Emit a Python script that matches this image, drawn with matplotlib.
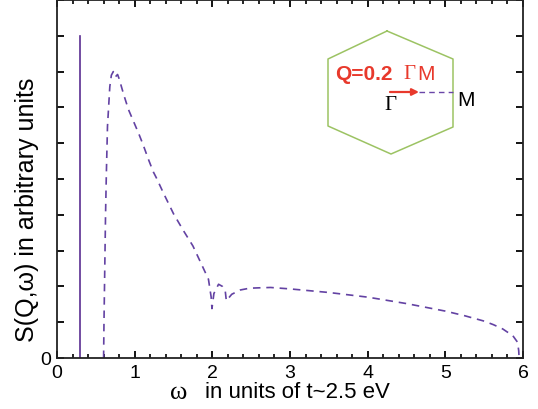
import matplotlib
matplotlib.use('Agg')
import matplotlib.pyplot as plt
import numpy as np

# delta peak (solid line)
delta_pos = 0.29
delta_height = 9.0

# continuum S(Q, w) (dashed line)
omega = [0.600, 0.605, 0.615, 0.625, 0.635, 0.65, 0.68, 0.70, 0.725, 0.75, 0.78,
         0.80, 0.86, 0.92, 1.05, 1.11, 1.175, 1.24, 1.28, 1.37, 1.50, 1.63, 1.75,
         1.86, 1.95, 1.985, 1.995, 2.02, 2.08, 2.13, 2.165, 2.18, 2.20, 2.25, 2.36,
         2.48, 2.60, 2.75, 3.0, 3.5, 4.0, 4.5, 5.0, 5.25, 5.5, 5.62, 5.74, 5.87,
         5.93, 5.945, 5.95]
s_qw = [0.0, 1.0, 2.5, 4.0, 5.1, 6.47, 7.58, 7.9, 8.0, 7.85, 7.92,
        7.8, 7.35, 6.94, 6.28, 5.95, 5.56, 5.2, 5.03, 4.61, 4.03, 3.55, 3.13,
        2.62, 2.2, 1.7, 1.38, 1.8, 2.06, 2.0, 1.9, 1.6, 1.65, 1.78, 1.9,
        1.95, 1.96, 1.97, 1.93, 1.83, 1.70, 1.52, 1.31, 1.18, 1.03, 0.93, 0.81, 0.62,
        0.44, 0.2, 0.0]

x_ticks = [0, 1, 2, 3, 4, 5, 6]

W, H = 538, 410


def fig_xy(px, py):
    return px / W, 1 - py / H


fig = plt.figure(figsize=(W / 100, H / 100), dpi=100)
ax = fig.add_axes([57 / W, 1 - 359 / H, (523 - 57) / W, (359 - 1) / H])

ax.plot([delta_pos, delta_pos], [0, delta_height], color='#5a2d91', lw=1.2)
ax.plot(omega, s_qw, color='#6342a3', lw=1.2, linestyle=(0, (4.5, 3.5)))

ax.set_xlim(0, 6)
ax.set_ylim(0, 10)
ax.set_xticks(x_ticks)
ax.set_xticklabels([str(t) for t in x_ticks], fontfamily='Liberation Sans', fontsize=14)
minor = [m for m in np.round(np.arange(0, 6.01, 0.2), 2) if m % 1 != 0]
ax.set_xticks(minor, minor=True)
ax.set_yticks(np.arange(0, 11, 1))
ax.set_yticklabels(['0'] + [''] * 10, fontfamily='Liberation Sans', fontsize=14)
ax.tick_params(axis='both', which='both', direction='in', top=True, right=True,
               bottom=True, left=True, color='black')
ax.tick_params(axis='both', which='major', length=5, width=1.3, pad=4)
ax.tick_params(axis='x', which='minor', length=3, width=1.2)
for sp in ax.spines.values():
    sp.set_color('#222222')
    sp.set_linewidth(1.3)

# axis labels
fig.text(*fig_xy(27, 210), 'S(Q,\u03c9) in arbitrary units', rotation=90,
         ha='center', va='center', fontfamily='Liberation Sans', fontsize=18)
fig.text(*fig_xy(179, 393), '\u03c9', ha='center', va='center',
         fontfamily='Liberation Serif', fontsize=19)
fig.text(*fig_xy(205, 393), 'in units of t~2.5 eV', ha='left', va='center',
         fontfamily='Liberation Sans', fontsize=16)

# Brillouin zone inset
hex_px = [(387, 32), (453, 60), (453, 128), (391, 155), (328, 127), (328, 60), (387, 32)]
hx = [fig_xy(*p)[0] for p in hex_px]
hy = [fig_xy(*p)[1] for p in hex_px]
fig.add_artist(plt.Line2D(hx, hy, color='#9cc363', lw=1.1, transform=fig.transFigure))

a0 = fig_xy(390, 93)
a1 = fig_xy(419, 93)
fig.add_artist(plt.Line2D([a1[0], fig_xy(453, 93)[0]], [a1[1], a1[1]], color='#6a46a8',
                          lw=1.0, linestyle=(0, (4, 3)), transform=fig.transFigure))
ax.annotate('', xy=a1, xytext=a0, xycoords='figure fraction', textcoords='figure fraction',
            arrowprops=dict(arrowstyle='-|>', color='#e8392c', lw=1.6,
                            mutation_scale=10, shrinkA=0, shrinkB=0))

fig.text(*fig_xy(335, 75), 'Q=0.2', ha='left', va='center', color='#e8392c',
         fontfamily='Liberation Sans', fontweight='bold', fontsize=15)
fig.text(*fig_xy(403, 75), '\u0393', ha='left', va='center', color='#e8392c',
         fontfamily='Liberation Serif', fontsize=15)
fig.text(*fig_xy(417, 75), 'M', ha='left', va='center', color='#e8392c',
         fontfamily='Liberation Sans', fontsize=15)
fig.text(*fig_xy(390, 105), '\u0393', ha='center', va='center', color='black',
         fontfamily='Liberation Serif', fontsize=15)
fig.text(*fig_xy(466, 101), 'M', ha='center', va='center', color='black',
         fontfamily='Liberation Sans', fontsize=15)

fig.savefig('out.png', dpi=100)
